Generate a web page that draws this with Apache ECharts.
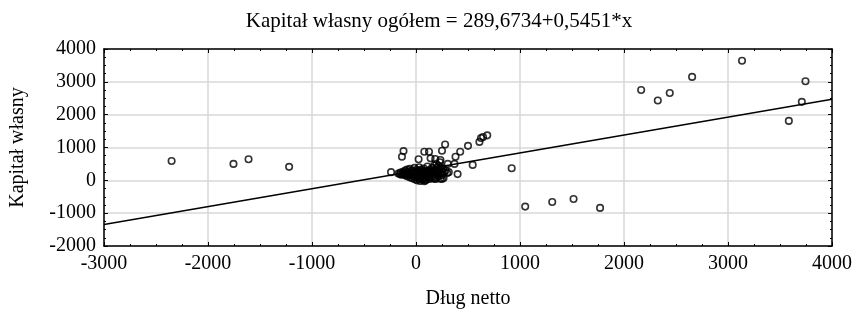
<!DOCTYPE html>
<html>
<head>
<meta charset="utf-8">
<script src="https://cdn.jsdelivr.net/npm/echarts@6/dist/echarts.min.js"></script>
<style>html,body{margin:0;padding:0;background:#fff}#c{width:856px;height:314px}</style>
</head>
<body>
<div id="c"></div>
<script>
const titleText = 'Kapitał własny ogółem = 289,6734+0,5451*x';
const xName = 'Dług netto';
const yName = 'Kapitał własny';
const intercept = 289.6734;
const slope = 0.5451;
const xMin = -3000, xMax = 4000, xStep = 1000;
const yMin = -2000, yMax = 4000, yStep = 1000;

// Outlying points (Dług netto, Kapitał własny)
const outerPoints = [
  [-2350,590],[-1755,500],[-1610,640],[-1220,410],
  [920,370],[1050,-800],[1310,-660],[1515,-570],[1770,-840],
  [2165,2750],[2325,2430],[2440,2660],[2655,3150],[3135,3640],
  [3585,1810],[3710,2390],[3745,3020]
];
// Points around the cluster edges
const nearPoints = [
  [-240,250],[-120,890],[-135,720],[25,640],[80,870],[125,870],[140,670],
  [250,900],[280,1090],[185,650],[235,620],[305,500],[370,500],[380,720],
  [425,870],[500,1050],[610,1170],[625,1290],[645,1320],[685,1370],[545,470],
  [400,190],[315,250],[265,70],[235,50],[180,50],[90,0],[190,40],[250,40]
];
// Dense cluster near the origin
const clusterPoints = [
  [-170,210],[-155,190],[-150,240],[-140,170],[-130,220],[-125,260],[-120,180],
  [-110,200],[-105,300],[-100,150],[-95,240],[-90,190],[-85,330],[-80,120],
  [-75,270],[-70,210],[-65,160],[-60,350],[-55,90],[-50,230],[-45,180],[-40,300],
  [-35,60],[-30,140],[-25,250],[-20,200],[-15,380],[-10,30],[-5,110],[0,170],
  [0,260],[5,320],[10,0],[12,80],[15,210],[20,140],[25,290],[28,40],[30,400],
  [35,180],[40,-20],[42,100],[45,240],[50,330],[55,60],[58,160],[60,280],[65,10],
  [70,210],[72,120],[75,360],[80,-30],[85,180],[88,70],[90,250],[95,300],[100,20],
  [105,140],[108,220],[110,420],[115,90],[120,290],[125,170],[130,40],[135,240],
  [140,330],[145,110],[150,200],[155,380],[160,60],[165,270],[170,150],[175,450],
  [180,230],[185,100],[190,310],[195,500],[200,180],[205,380],[210,260],[215,440],
  [220,130],[225,320],[230,550],[235,210],[240,400],[245,280],[250,160],[260,350],
  [270,250],[285,300],[300,220]
];

const allPoints = outerPoints.concat(nearPoints, clusterPoints);
const fitLine = [[xMin, intercept + slope * xMin], [xMax, intercept + slope * xMax]];

const font = 'Liberation Serif';
const fs = 20;
const plain = v => String(v);
const axisBase = {
  axisLine: { show: true, onZero: false, lineStyle: { color: '#000', width: 1.5 } },
  axisTick: { show: true, inside: true, length: 4, lineStyle: { color: '#000', width: 1 } },
  minorTick: { show: true, splitNumber: 4, length: 2, lineStyle: { color: '#000', width: 1 } },
  splitLine: { show: false },
  minorSplitLine: { show: false }
};
const chart = echarts.init(document.getElementById('c'), null, { renderer: 'canvas' });
chart.setOption({
  animation: false,
  backgroundColor: '#fff',
  title: {
    text: titleText, left: 434, top: 6, textAlign: 'center',
    textStyle: { fontFamily: font, fontSize: 21, fontWeight: 'normal', color: '#000' }
  },
  grid: { left: 103, right: 24, top: 49, bottom: 65 },
  xAxis: [
    Object.assign({}, axisBase, {
      type: 'value', position: 'bottom', min: xMin, max: xMax, interval: xStep,
      name: xName, nameLocation: 'middle', nameGap: 43,
      nameTextStyle: { fontFamily: font, fontSize: fs, color: '#000' },
      axisLabel: { fontFamily: font, fontSize: fs, color: '#000', margin: 8, formatter: plain },
      splitLine: { show: true, lineStyle: { color: '#d9d9d9', width: 1.5 } }
    }),
    Object.assign({}, axisBase, {
      type: 'value', position: 'top', min: xMin, max: xMax, interval: xStep,
      axisLabel: { show: false }
    })
  ],
  yAxis: [
    Object.assign({}, axisBase, {
      type: 'value', position: 'left', min: yMin, max: yMax, interval: yStep,
      name: yName, nameLocation: 'middle', nameGap: 76, nameRotate: 90,
      nameTextStyle: { fontFamily: font, fontSize: fs, color: '#000' },
      axisLabel: { fontFamily: font, fontSize: fs, color: '#000', margin: 8, formatter: plain },
      splitLine: { show: true, lineStyle: { color: '#d9d9d9', width: 1.5 } }
    }),
    Object.assign({}, axisBase, {
      type: 'value', position: 'right', min: yMin, max: yMax, interval: yStep,
      axisLabel: { show: false }
    })
  ],
  series: [
    {
      type: 'line', data: fitLine, xAxisIndex: 0, yAxisIndex: 0,
      showSymbol: false, symbol: 'none', lineStyle: { color: '#000', width: 1.4 }, z: 3
    },
    {
      type: 'scatter', data: allPoints, xAxisIndex: 0, yAxisIndex: 0,
      symbol: 'circle', symbolSize: 6.5,
      itemStyle: { color: 'rgba(255,255,255,0)', borderColor: '#000', borderWidth: 1.6 }, z: 4
    }
  ]
});
</script>
</body>
</html>
